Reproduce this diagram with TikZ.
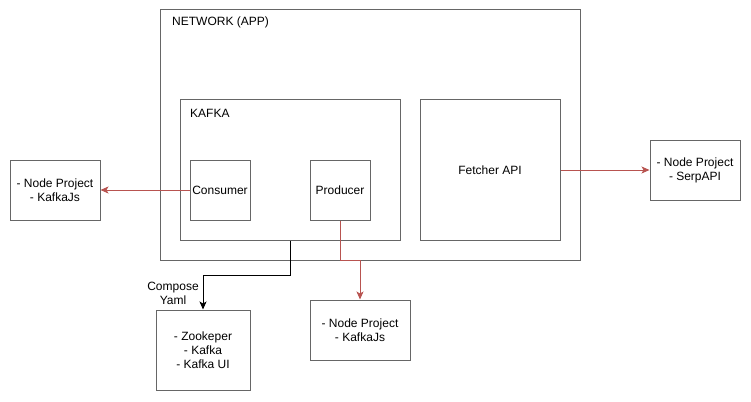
\documentclass[tikz,border=0pt]{standalone}
\usepackage{fontspec}
\setmainfont{Liberation Sans}
\usepackage{xcolor}
\usetikzlibrary{arrows.meta}
\usetikzlibrary{calc}
\definecolor{boxgray}{HTML}{666666}
\definecolor{linkred}{HTML}{B85450}
\tikzset{
    box/.style={draw=boxgray, line width=1pt, fill=white, inner sep=0pt, align=center, font=\fontsize{12}{14}\selectfont},
    redlink/.style={draw=linkred, line width=1pt, -{Stealth[length=8pt,width=7pt,inset=2pt]}},
    blacklink/.style={draw=black, line width=1pt, -{Stealth[length=8pt,width=7pt,inset=2pt]}},
    caption/.style={inner sep=0pt, font=\fontsize{12}{14}\selectfont}
}
\begin{document}
\begin{tikzpicture}[x=1pt,y=-1pt]
        \newcommand{\smallside}{60pt}
        \newcommand{\projwidth}{90pt}
        \useasboundingbox (0,0) rectangle (751,401);
        \node[box, minimum width=420pt, minimum height=250pt] (network) at (370,135) {};
        \node[caption, anchor=west] (networklabel) at (172,22) {NETWORK (APP)};
        \node[box, minimum width=220pt, minimum height=140pt] (kafka) at (290,170) {};
        \node[caption, anchor=west] (kafkalabel) at (190,113) {KAFKA};
        \node[box, minimum width=\smallside, minimum height=\smallside] (consumer) at (220,190) {Consumer};
        \node[box, minimum width=\smallside, minimum height=\smallside] (producer) at (340,190) {Producer};
        \node[box, minimum width=140pt, minimum height=140pt] (fetcher) at (490,170) {Fetcher API};
        \node[box, minimum width=\projwidth, minimum height=\smallside] (consproj) at (55,190) {- Node Project\\- KafkaJs};
        \node[box, minimum width=\projwidth, minimum height=\smallside] (serpproj) at (695,170) {- Node Project\\- SerpAPI};
        \node[box, minimum width=100pt, minimum height=\smallside] (prodproj) at (360,330) {- Node Project\\- KafkaJs};
        \node[box, minimum width=94pt, minimum height=80pt] (compose) at (203,350) {- Zookeper\\- Kafka\\- Kafka UI};
        \draw[redlink] (consumer.west) -- (consproj.east);
        \draw[redlink] (fetcher.east) -- (serpproj.west);
        \draw[redlink] (producer.south) -- ++(0,40) -| (prodproj.north);
        \draw[blacklink] (kafka.south) -- ++(0,35) -| (compose.north);
        \node[caption, align=center] (composelabel) at (173,293) {Compose\\Yaml};
    \end{tikzpicture}
\end{document}
